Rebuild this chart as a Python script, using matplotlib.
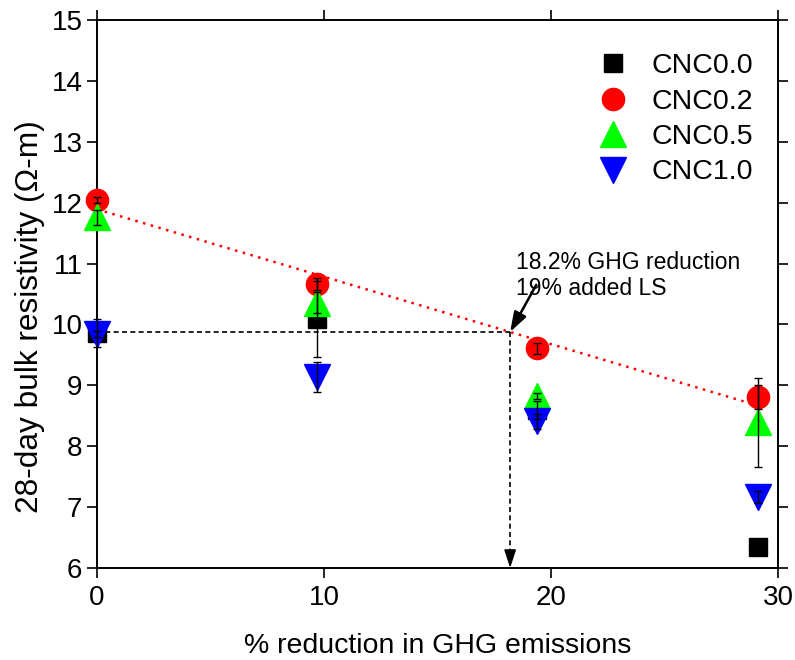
import numpy as np
import matplotlib
matplotlib.use('Agg')
import matplotlib.pyplot as plt

plt.rcParams['font.family'] = ['Liberation Sans', 'DejaVu Sans']

# % reduction in GHG emissions
ghg = [0, 9.7, 19.4, 29.1]

# 28-day bulk resistivity (ohm-m) and error
cnc00 = [9.86, 10.09, 8.59, 6.34]
err00 = [0.23, 0.63, 0.15, 0.03]
cnc02 = [12.04, 10.66, 9.61, 8.81]
err02 = [0.05, 0.10, 0.09, 0.20]
cnc05 = [11.76, 10.36, 8.82, 8.39]
err05 = [0.12, 0.18, 0.05, 0.73]
cnc10 = [9.85, 9.14, 8.41, 7.17]
err10 = [0.05, 0.25, 0.12, 0.10]

target_x = 18.2

fig = plt.figure(figsize=(7.95, 6.6), dpi=100)
ax = fig.add_axes([0.122, 0.1394, 0.8566, 0.8303])

series = [
    ('CNC0.0', cnc00, err00, 's', 'black', 13.5),
    ('CNC0.2', cnc02, err02, 'o', '#ff0000', 16),
    ('CNC0.5', cnc05, err05, '^', '#00ff00', 19),
    ('CNC1.0', cnc10, err10, 'v', '#0000ff', 19),
]

for name, vals, errs, mk, col, ms in series:
    ax.plot(ghg, vals, ls='none', marker=mk, color=col, ms=ms,
            mec=col, label=name, zorder=3, clip_on=False)
    eb = ax.errorbar(ghg, vals, yerr=errs, fmt='none', ecolor='black',
                     elinewidth=1, capsize=3.2, capthick=1, zorder=4)
    for art in eb.lines[1] + eb.lines[2]:
        art.set_clip_on(False)

# linear fit of CNC0.2
slope, icpt = np.polyfit(ghg, cnc02, 1)
xf = np.array([0, ghg[-1]])
ax.plot(xf, icpt + slope * xf, ls=(0, (1, 2.2)), color='#ff0000', lw=1.8, zorder=2)

y_ref = icpt + slope * target_x
ax.plot([0, target_x], [y_ref, y_ref], ls=(0, (3, 2)), color='black', lw=1.2, zorder=2)
ax.plot([target_x, target_x], [y_ref, 6.2], ls=(0, (3, 2)), color='black', lw=1.2, zorder=2)
ax.annotate('', xy=(target_x, 6.0), xytext=(target_x, 6.3),
            arrowprops=dict(arrowstyle='-|>,head_width=0.36,head_length=1.1',
                            color='black', lw=1.2, shrinkA=0, shrinkB=0))

ax.annotate('', xy=(target_x, y_ref), xytext=(19.35, 10.65),
            arrowprops=dict(arrowstyle='-|>,head_width=0.4,head_length=1.2',
                            color='black', lw=1.8, shrinkA=0, shrinkB=0))
ax.text(18.45, 11.2, '18.2% GHG reduction\n19% added LS', fontsize=16.5,
        va='top', ha='left', linespacing=1.13)

ax.set_xlim(0, 30)
ax.set_ylim(6, 15)
ax.set_xticks([0, 10, 20, 30])
ax.set_yticks(range(6, 16))
ax.tick_params(axis='both', direction='out', length=7, width=1.2, labelsize=20,
               top=True, right=True, labeltop=False, labelright=False)
ax.tick_params(axis='x', pad=5)
for s in ax.spines.values():
    s.set_linewidth(1.4)

ax.set_xlabel('% reduction in GHG emissions', fontsize=20.5, labelpad=16)
ax.set_ylabel('28-day bulk resistivity (\u03a9-m)', fontsize=22.8)
ax.yaxis.set_label_coords(-0.077, 0.459)

ax.legend(loc='upper right', bbox_to_anchor=(0.98, 0.96), frameon=False,
          fontsize=20.5, handletextpad=0.35, labelspacing=0.33, borderaxespad=0)

fig.savefig('out.png', dpi=100)
